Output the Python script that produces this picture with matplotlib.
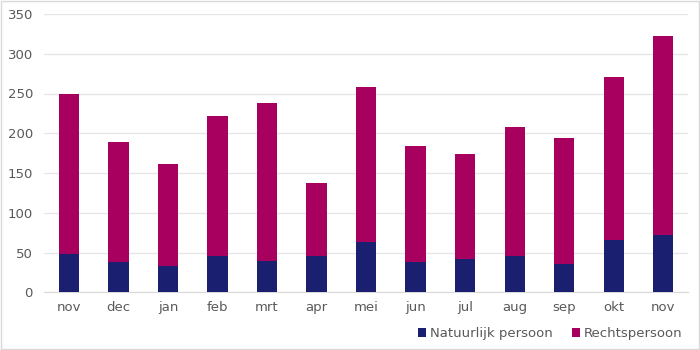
import numpy as np
import matplotlib
matplotlib.use("Agg")
import matplotlib.pyplot as plt

# maanden en aantallen
months = ['nov', 'dec', 'jan', 'feb', 'mrt', 'apr', 'mei', 'jun', 'jul', 'aug', 'sep', 'okt', 'nov']
natuurlijk = [48, 38, 33, 45, 39, 46, 63, 38, 42, 46, 36, 66, 72]
totaal = [250, 189, 161, 222, 238, 138, 258, 184, 174, 208, 194, 271, 322]
rechts = [t - n for t, n in zip(totaal, natuurlijk)]

navy = '#1b1f6f'
magenta = '#a8005e'
grey = '#595959'

fig = plt.figure(figsize=(7, 3.5), dpi=100)
ax = fig.add_axes([0.063, 0.165, 0.92, 0.795])

x = np.arange(len(months))
ax.bar(x, natuurlijk, width=0.41, color=navy, label='Natuurlijk persoon', zorder=3)
ax.bar(x, rechts, width=0.41, bottom=natuurlijk, color=magenta, label='Rechtspersoon', zorder=3)

ax.set_xlim(-0.5, 12.5)
ax.set_ylim(0, 350)
ax.set_yticks(range(0, 351, 50))
ax.set_xticks(x)
ax.set_xticklabels(months)
ax.grid(axis='y', color='#e6e6e6', linewidth=1, zorder=0)
for s in ax.spines.values():
    s.set_visible(False)
ax.spines['bottom'].set_visible(True)
ax.spines['bottom'].set_color('#d9d9d9')
ax.tick_params(length=0, colors=grey, labelsize=9.5)
ax.tick_params(axis='y', pad=8)
ax.tick_params(axis='x', pad=6)

ax.legend(loc='lower right', bbox_to_anchor=(1.01, -0.215), ncol=2, frameon=False,
          fontsize=9.5, handlelength=0.6, handleheight=0.6, handletextpad=0.3,
          columnspacing=1.5, labelcolor=grey)

fig.patches.append(plt.Rectangle((0.001, 0.002), 0.997, 0.995, transform=fig.transFigure,
                                 fill=False, edgecolor='#d9d9d9', linewidth=1))

fig.savefig('out.png', dpi=100)
